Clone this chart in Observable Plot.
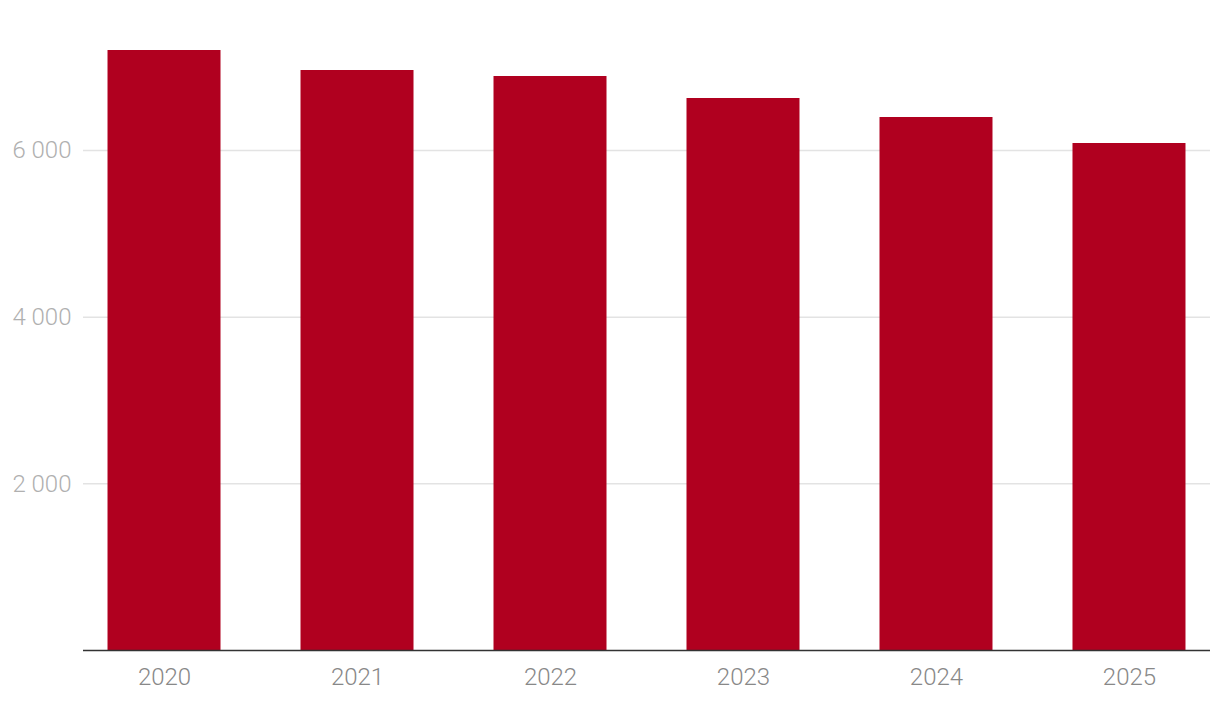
<!DOCTYPE html>
<html>
<head>
<meta charset="utf-8">
<script src="https://cdn.jsdelivr.net/npm/d3@7"></script>
<script src="https://cdn.jsdelivr.net/npm/@observablehq/plot@0.6"></script>
<style>
  html, body { margin: 0; padding: 0; background: #fff; }
  #chart { width: 1220px; height: 708px; }
</style>
</head>
<body>
<div id="chart"></div>
<script>
const years = ["2020", "2021", "2022", "2023", "2024", "2025"];
const values = [7200, 6960, 6888, 6624, 6396, 6084];
const yTicks = [2000, 4000, 6000];

const data = years.map((year, i) => ({year, value: values[i]}));
const fmtSpace = v => d3.format(",")(v).replace(/,/g, " ");

const chart = Plot.plot({
  width: 1220,
  height: 708,
  marginTop: 0,
  marginLeft: 83,
  marginRight: 10,
  marginBottom: 58,
  style: {fontFamily: "Roboto", fontSize: "24px", fontWeight: 300, background: "#fff"},
  x: {domain: years, paddingInner: 0.4145, paddingOuter: 0.127, round: false, label: null},
  y: {domain: [0, 7800], label: null},
  marks: [
    Plot.gridY(yTicks, {stroke: "#e3e3e3", strokeOpacity: 1, strokeWidth: 1.5}),
    Plot.barY(data, {x: "year", y: "value", fill: "#b0001f"}),
    Plot.ruleY([0], {stroke: "#333", strokeWidth: 1.7}),
    Plot.axisY(yTicks, {tickSize: 0, tickPadding: 12, tickFormat: fmtSpace, color: "#b0b0b0", label: null}),
    Plot.axisX({tickSize: 0, tickPadding: 17, color: "#888888", label: null})
  ]
});
document.getElementById("chart").appendChild(chart);
</script>
</body>
</html>
